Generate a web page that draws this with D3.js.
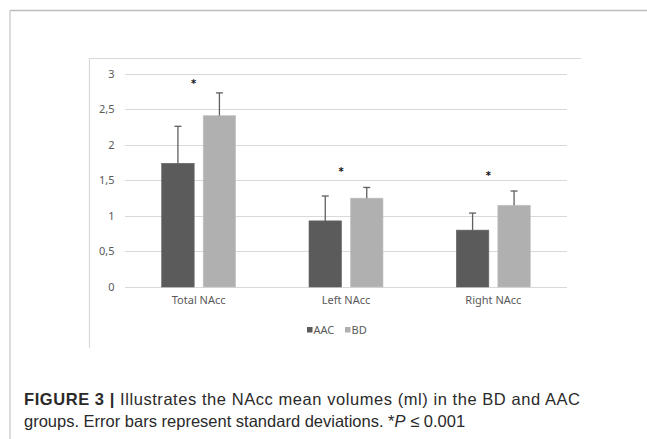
<!DOCTYPE html>
<html>
<head>
<meta charset="utf-8">
<script src="https://cdn.jsdelivr.net/npm/d3@7"></script>
<style>
  html, body { margin: 0; padding: 0; background: #fff; }
  svg { display: block; }
</style>
</head>
<body>
<svg id="fig" width="647" height="439"></svg>
<script>
// values (ml)
var categories = ["Total NAcc", "Left NAcc", "Right NAcc"];
var seriesNames = ["AAC", "BD"];
var aacMean = [1.74, 0.93, 0.80];
var aacSd   = [0.52, 0.35, 0.24];
var bdMean  = [2.41, 1.25, 1.15];
var bdSd    = [0.32, 0.15, 0.20];
var starAt  = [2.87, 1.64, 1.585];   // height of the "*" marks
var yTicks  = [0, 0.5, 1, 1.5, 2, 2.5, 3];

var colors = { AAC: "#5b5b5b", BD: "#b0b0b0" };
var LABEL_FONT = "'Noto Sans', sans-serif";

var svg = d3.select("#fig");

// outer figure frame (top + left only, the rest is cropped)
svg.append("line").attr("x1", 10).attr("x2", 647).attr("y1", 10.5).attr("y2", 10.5)
    .style("stroke", "#bdbdbd").style("stroke-width", 1.5);
svg.append("line").attr("x1", 10).attr("x2", 10).attr("y1", 10).attr("y2", 439)
    .style("stroke", "#cfcfcf").style("stroke-width", 1.5);

// inner chart frame
svg.append("line").attr("x1", 89).attr("x2", 581).attr("y1", 58.5).attr("y2", 58.5)
    .style("stroke", "#d9d9d9").style("stroke-width", 1.2);
svg.append("line").attr("x1", 89.5).attr("x2", 89.5).attr("y1", 58).attr("y2", 348)
    .style("stroke", "#d9d9d9").style("stroke-width", 1.2);

var plot = { left: 125, right: 567, top: 73.7, bottom: 287 };

var x = d3.scaleBand().domain(categories).range([plot.left, plot.right]).padding(0);
var y = d3.scaleLinear().domain([0, 3]).range([plot.bottom, plot.top]);

var barW = 32.5, gap = 9;
var offsets = { AAC: -gap / 2 - barW, BD: gap / 2 };

// gridlines
svg.append("g").selectAll("line").data(yTicks).enter().append("line")
    .attr("x1", plot.left).attr("x2", plot.right)
    .attr("y1", function (d) { return Math.round(y(d)) + 0.5; })
    .attr("y2", function (d) { return Math.round(y(d)) + 0.5; })
    .style("stroke", "#d9d9d9").style("stroke-width", 1);

// y axis labels (comma decimals)
var fmt = function (d) { return String(d).replace(".", ","); };
var yAxis = d3.axisLeft(y).tickValues(yTicks).tickFormat(fmt).tickSize(0).tickPadding(0);
var ya = svg.append("g").attr("transform", "translate(114.5,0)").call(yAxis);
ya.select(".domain").remove();
ya.selectAll("text").style("font-family", LABEL_FONT)
    .style("font-size", "11px").style("fill", "#595959");

// category labels
var xAxis = d3.axisBottom(x).tickSize(0).tickPadding(0);
var xa = svg.append("g").attr("transform", "translate(0,296)").call(xAxis);
xa.select(".domain").remove();
xa.selectAll("text").style("font-family", LABEL_FONT)
    .style("font-size", "11px").style("fill", "#595959");

var rows = [];
categories.forEach(function (c, i) {
    rows.push({ cat: c, s: "AAC", m: aacMean[i], sd: aacSd[i] });
    rows.push({ cat: c, s: "BD", m: bdMean[i], sd: bdSd[i] });
});

function cx(d) { return x(d.cat) + x.bandwidth() / 2 + offsets[d.s]; }

// bars
svg.append("g").selectAll("rect").data(rows).enter().append("rect")
    .attr("x", cx)
    .attr("width", barW)
    .attr("y", function (d) { return y(d.m); })
    .attr("height", function (d) { return y(0) - y(d.m); })
    .style("fill", function (d) { return colors[d.s]; })
    .style("stroke", function (d) { return d3.color(colors[d.s]).brighter(0.3); })
    .style("stroke-width", 0.6);

// error bars (upper half only)
var eb = svg.append("g").style("stroke", "#5f5f5f").style("stroke-width", 1.3);
eb.selectAll("line.v").data(rows).enter().append("line").attr("class", "v")
    .attr("x1", function (d) { return cx(d) + barW / 2; })
    .attr("x2", function (d) { return cx(d) + barW / 2; })
    .attr("y1", function (d) { return y(d.m); })
    .attr("y2", function (d) { return y(d.m + d.sd); });
eb.selectAll("line.c").data(rows).enter().append("line").attr("class", "c")
    .attr("x1", function (d) { return cx(d) + barW / 2 - 3.5; })
    .attr("x2", function (d) { return cx(d) + barW / 2 + 3.5; })
    .attr("y1", function (d) { return y(d.m + d.sd); })
    .attr("y2", function (d) { return y(d.m + d.sd); });

// significance stars
svg.append("g").selectAll("text").data(categories).enter().append("text")
    .attr("x", function (d) { return x(d) + x.bandwidth() / 2 - 5; })
    .attr("y", function (d, i) { return y(starAt[i]) + 4.5; })
    .attr("text-anchor", "middle")
    .style("font-family", "'DejaVu Sans', sans-serif")
    .style("font-size", "10px").style("font-weight", "bold").style("fill", "#111")
    .text("*");

// legend
var legend = svg.append("g").attr("transform", "translate(307,330)");
var lx = [0, 38];
seriesNames.forEach(function (s, i) {
    legend.append("rect").attr("x", lx[i]).attr("y", -3).attr("width", 5.5).attr("height", 5.5)
        .style("fill", colors[s]);
    legend.append("text").attr("x", lx[i] + 6.5).attr("y", 4)
        .style("font-family", LABEL_FONT)
        .style("font-size", "11px").style("fill", "#595959")
        .text(s);
});

// caption (first line is justified in the source)
var cap = svg.append("g").style("font-family", "'Liberation Sans', Arial, sans-serif")
    .style("font-size", "16.5px").style("fill", "#2a2a2a");
var l1 = cap.append("text").attr("x", 24).attr("y", 405)
    .attr("textLength", 556).attr("lengthAdjust", "spacing");
l1.append("tspan").style("font-weight", "bold").text("FIGURE 3 | ");
l1.append("tspan").text("Illustrates the NAcc mean volumes (ml) in the BD and AAC");
var l2 = cap.append("text").attr("x", 24).attr("y", 427);
l2.append("tspan").text("groups. Error bars represent standard deviations. *");
l2.append("tspan").style("font-style", "italic").text("P");
l2.append("tspan").text(" \u2264 0.001");
</script>
</body>
</html>
